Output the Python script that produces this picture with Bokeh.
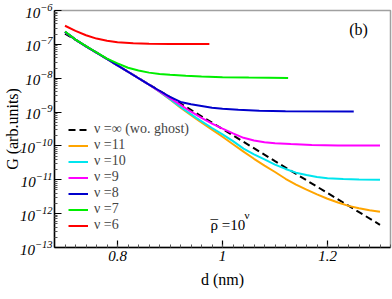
import numpy as np
from bokeh.plotting import figure
from bokeh.models import Legend, LegendItem, Label, FixedTicker
from bokeh.embed import file_html
from bokeh.resources import INLINE

# ---- data (G values stored as log10) ----
d_inf = [0.70, 0.80, 0.90, 1.00, 1.10, 1.20, 1.30]
logG_inf = [-6.68, -7.62, -8.56, -9.50, -10.45, -11.39, -12.33]

d_nu6 = [0.70, 0.72, 0.74, 0.76, 0.78, 0.80, 0.83, 0.86, 0.90, 0.975]
logG_nu6 = [-6.45, -6.60, -6.73, -6.83, -6.895, -6.935, -6.965, -6.98, -6.988, -6.99]

d_nu7 = [0.70, 0.72, 0.74, 0.76, 0.78, 0.80, 0.82, 0.84, 0.86, 0.88, 0.90, 0.93, 0.96, 1.00, 1.05, 1.125]
logG_nu7 = [-6.62, -6.86, -7.05, -7.24, -7.42, -7.56, -7.69, -7.77, -7.835, -7.875, -7.90, -7.93, -7.95, -7.97, -7.98, -7.99]

d_nu8 = [0.70, 0.72, 0.74, 0.76, 0.78, 0.80, 0.83, 0.86, 0.88, 0.90, 0.92, 0.94, 0.96, 0.98, 1.00, 1.03, 1.07, 1.12, 1.25]
logG_nu8 = [-6.63, -6.86, -7.057, -7.245, -7.433, -7.622, -7.905, -8.187, -8.37, -8.55, -8.70, -8.77, -8.82, -8.87, -8.90, -8.935, -8.96, -8.975, -8.985]

d_nu9 = [0.70, 0.72, 0.74, 0.76, 0.78, 0.80, 0.83, 0.86, 0.88, 0.90, 0.92, 0.94, 0.96, 0.98, 1.00, 1.02, 1.04, 1.06, 1.08, 1.10, 1.13, 1.17, 1.22, 1.30]
logG_nu9 = [-6.63, -6.86, -7.057, -7.245, -7.433, -7.622, -7.905, -8.187, -8.39, -8.59, -8.79, -8.99, -9.17, -9.34, -9.49, -9.63, -9.76, -9.84, -9.89, -9.92, -9.945, -9.97, -9.985, -9.99]

d_nu10 = [0.70, 0.72, 0.74, 0.76, 0.78, 0.80, 0.83, 0.86, 0.88, 0.90, 0.92, 0.95, 0.98, 1.00, 1.02, 1.04, 1.06, 1.08, 1.10, 1.12, 1.14, 1.16, 1.18, 1.20, 1.23, 1.26, 1.30]
logG_nu10 = [-6.63, -6.86, -7.057, -7.245, -7.433, -7.622, -7.905, -8.187, -8.40, -8.62, -8.85, -9.17, -9.47, -9.66, -9.86, -10.08, -10.25, -10.40, -10.55, -10.68, -10.79, -10.86, -10.92, -10.955, -10.98, -10.99, -11.0]

d_nu11 = [0.70, 0.72, 0.74, 0.76, 0.78, 0.80, 0.83, 0.86, 0.88, 0.90, 0.92, 0.95, 0.98, 1.00, 1.02, 1.04, 1.06, 1.08, 1.10, 1.12, 1.14, 1.16, 1.18, 1.20, 1.22, 1.24, 1.26, 1.28, 1.30]
logG_nu11 = [-6.63, -6.86, -7.057, -7.245, -7.433, -7.622, -7.905, -8.187, -8.40, -8.63, -8.87, -9.20, -9.52, -9.73, -9.95, -10.17, -10.38, -10.58, -10.77, -10.97, -11.14, -11.29, -11.43, -11.56, -11.67, -11.77, -11.84, -11.90, -11.945]

labels = ["ν =∞ (wo. ghost)", "ν =11", "ν =10", "ν =9", "ν =8", "ν =7", "ν =6"]
colors = ["black", "#FFA500", "#00E5EE", "#FF00FF", "#0000CC", "#00EE00", "#FF0000"]

x_major = [0.8, 1.0, 1.2]
x_labels = {0.8: "0.8", 1.0: "1", 1.2: "1.2"}
y_exponents = list(range(-13, -5))

FONT = "Liberation Serif"

# ---- figure ----
p = figure(width=392, height=299, x_range=(0.68, 1.32), y_range=(1e-13, 1e-6),
           y_axis_type="log", output_backend="svg", toolbar_location=None,
           min_border_left=52, min_border_right=2, min_border_top=10, min_border_bottom=52)
p.background_fill_color = "white"
p.border_fill_color = "white"
p.grid.visible = False
p.outline_line_color = "#a0a0a0"
p.outline_line_width = 1.5

series = [(d_inf, logG_inf), (d_nu11, logG_nu11), (d_nu10, logG_nu10), (d_nu9, logG_nu9),
          (d_nu8, logG_nu8), (d_nu7, logG_nu7), (d_nu6, logG_nu6)]
renderers = []
for i, ((dd, lg), c) in enumerate(zip(series, colors)):
    g = np.power(10.0, np.array(lg))
    if i == 0:
        r = p.line(dd, g, line_color=c, line_width=2, line_dash="7 4")
    else:
        r = p.line(dd, g, line_color=c, line_width=2)
    renderers.append(r)

# axes
minor_x = [round(v, 2) for v in np.arange(0.68, 1.3201, 0.02)]
p.xaxis.ticker = FixedTicker(ticks=x_major, minor_ticks=minor_x)
p.xaxis.major_label_overrides = x_labels
y_major = [10.0 ** e for e in y_exponents]
y_minor = [k * 10.0 ** e for e in y_exponents[:-1] for k in range(2, 10)]
p.yaxis.ticker = FixedTicker(ticks=y_major, minor_ticks=y_minor)

for ax in (p.xaxis[0], p.yaxis[0]):
    ax.major_tick_out = 0
    ax.minor_tick_out = 0
    ax.major_tick_in = 7
    ax.minor_tick_in = 3
    ax.axis_line_color = "black"
    ax.axis_line_width = 1.5
    ax.major_tick_line_width = 1.2
    ax.minor_tick_line_color = "#555555"
    ax.major_label_text_font = FONT
    ax.major_label_text_font_style = "italic"
    ax.major_label_text_font_size = "15px"
    ax.major_label_text_color = "black"
    ax.axis_label_text_font = FONT
    ax.axis_label_text_font_style = "normal"
    ax.axis_label_text_font_size = "16px"
    ax.axis_label_text_color = "black"
p.yaxis.major_label_standoff = 2
p.xaxis.major_label_standoff = 3

p.xaxis.axis_label = "d (nm)"
p.xaxis.axis_label_standoff = 7
p.yaxis.axis_label = "G (arb.units)"
p.yaxis.axis_label_standoff = -4

p.add_layout(Label(x=304, y=218, x_units="screen", y_units="screen", text="(b)",
                   text_align="center", text_baseline="middle",
                   text_font=FONT, text_font_size="16px", text_color="black"))
p.add_layout(Label(x=156, y=23, x_units="screen", y_units="screen", text="ρ =10",
                   text_align="left", text_baseline="alphabetic",
                   text_font=FONT, text_font_size="15px", text_color="black"))
p.add_layout(Label(x=156, y=23, x_units="screen", y_units="screen", text="\u00af",
                   text_align="left", text_baseline="alphabetic",
                   text_font=FONT, text_font_size="15px", text_color="black"))
p.add_layout(Label(x=190, y=33, x_units="screen", y_units="screen", text="ν",
                   text_align="left", text_baseline="alphabetic",
                   text_font=FONT, text_font_size="11px", text_color="black"))

items = [LegendItem(label=lab, renderers=[r]) for lab, r in zip(labels, renderers)]
legend = Legend(items=items, location=(14, 14), label_text_font=FONT,
                label_text_font_size="14px",
                glyph_width=20, glyph_height=13, label_height=13,
                spacing=0, padding=0, margin=0, border_line_color=None,
                background_fill_alpha=0, label_standoff=6)
p.add_layout(legend)

open("out.html", "w").write(file_html(p, INLINE))
